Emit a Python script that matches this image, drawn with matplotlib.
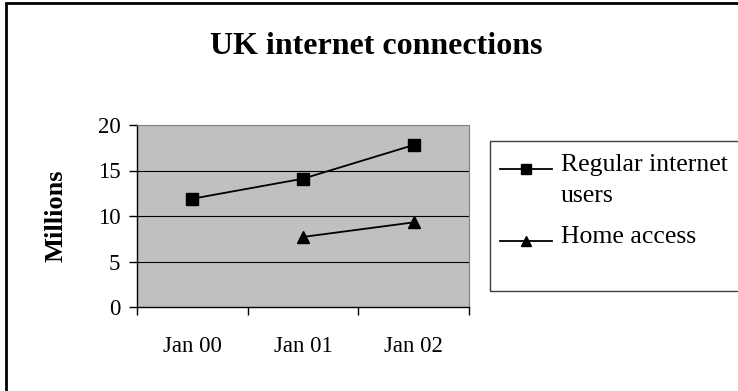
import numpy as np
import matplotlib
matplotlib.use("Agg")
from matplotlib import pyplot as plt
from matplotlib.patches import Rectangle
from matplotlib.lines import Line2D

# data
months = ['Jan 00', 'Jan 01', 'Jan 02']
regular_users = [11.9, 14.1, 17.8]
home_access = [np.nan, 7.7, 9.3]
series_names = ['Regular internet\nusers', 'Home access']

plt.rcParams['font.family'] = ['Liberation Serif', 'DejaVu Serif']

fig = plt.figure(figsize=(7.38, 3.91), dpi=100)
W, H = 738, 391
ax = fig.add_axes([137 / W, 1 - 307 / H, (469 - 137) / W, (307 - 125) / H])
ax.set_facecolor('#c0c0c0')

x = np.arange(len(months))
ax.plot(x, regular_users, color='black', lw=1.3, marker='s', ms=9)
ax.plot(x, home_access, color='black', lw=1.3, marker='^', ms=9)

ax.set_xlim(-0.5, 2.5)
ax.set_ylim(0, 20)
ax.set_yticks([0, 5, 10, 15, 20])
for v in [5, 10, 15]:
    ax.axhline(v, color='black', lw=0.8, zorder=1)

ax.set_xticks(x)
ax.set_xticklabels(months)
ax.set_xticks([-0.5, 0.5, 1.5, 2.5], minor=True)
ax.tick_params(axis='x', which='major', length=0, pad=21, labelsize=16.5)
ax.tick_params(axis='x', which='minor', length=6, width=1, direction='out')
ax.tick_params(axis='y', length=6, width=1, direction='out', labelsize=16.5, pad=6)

for s in ['top', 'right']:
    ax.spines[s].set_color('#808080')
    ax.spines[s].set_linewidth(0.8)
for s in ['left', 'bottom']:
    ax.spines[s].set_color('black')
    ax.spines[s].set_linewidth(1)

fig.text(56 / W, 1 - 216 / H, 'Millions', rotation=90, ha='center', va='center',
         fontsize=19, fontweight='bold')
fig.text(376 / W, 1 - 46 / H, 'UK internet connections', ha='center', va='center',
         fontsize=23, fontweight='bold')

# legend drawn by hand (box runs off the right edge)
fig.patches.append(Rectangle((490 / W, 1 - 291 / H), 1.0, 150 / H,
                             transform=fig.transFigure, fill=False,
                             edgecolor='#404040', lw=1))
for name, mk, base in zip(series_names, ['s', '^'], [171, 243]):
    yy = 1 - (base - 2) / H
    fig.add_artist(Line2D([500 / W, 552 / W], [yy, yy], color='black', lw=1.3,
                          transform=fig.transFigure))
    fig.add_artist(Line2D([526 / W], [yy], color='black', marker=mk, ms=7.5,
                          transform=fig.transFigure))
    for k, line in enumerate(name.split('\n')):
        fig.text(561 / W, 1 - (base + 31 * k) / H, line, ha='left', va='baseline',
                 fontsize=18.5)

# outer chart border (cut off at right and bottom)
fig.patches.append(Rectangle((6 / W, -0.05), 1.2, 1 - 3 / H + 0.05,
                             transform=fig.transFigure, fill=False,
                             edgecolor='black', lw=2))

fig.savefig('out.png', dpi=100)
